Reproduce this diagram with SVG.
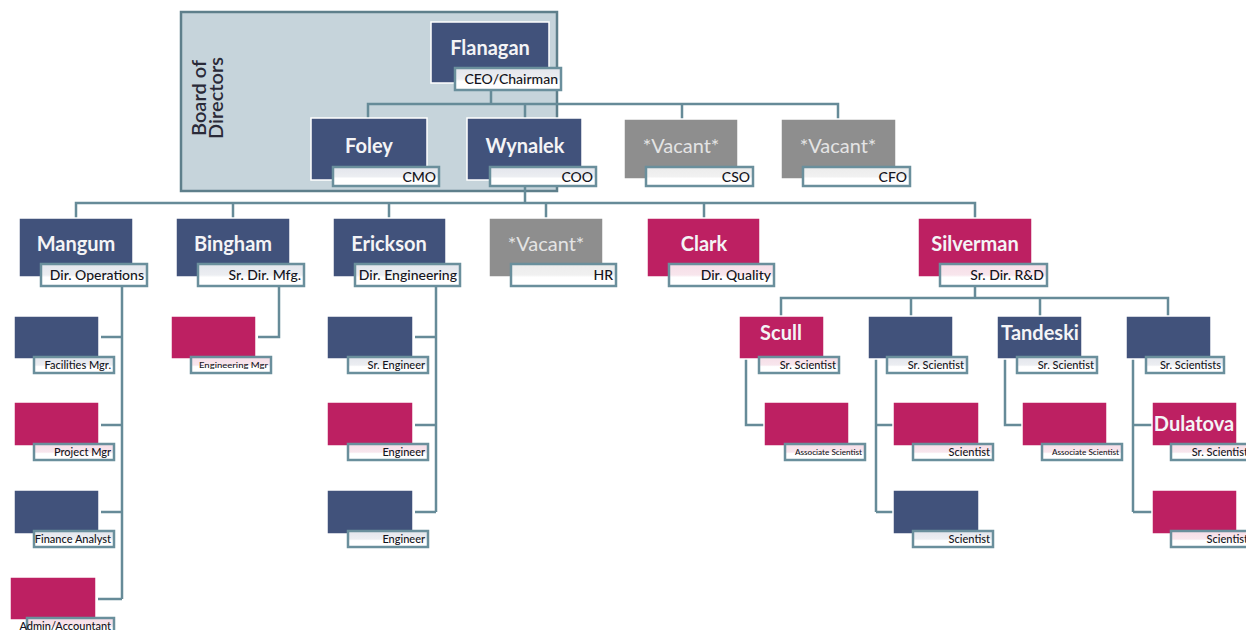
<svg xmlns="http://www.w3.org/2000/svg" width="1246" height="630" viewBox="0 0 1246 630">
<defs>
<linearGradient id="gN" x1="0" y1="0" x2="0" y2="1"><stop offset="0" stop-color="#e3e5ec"/><stop offset="0.5" stop-color="#eceef2"/><stop offset="0.6" stop-color="#fff"/><stop offset="1" stop-color="#fff"/></linearGradient>
<linearGradient id="gP" x1="0" y1="0" x2="0" y2="1"><stop offset="0" stop-color="#f6dde7"/><stop offset="0.5" stop-color="#f8e6ed"/><stop offset="0.6" stop-color="#fff"/><stop offset="1" stop-color="#fff"/></linearGradient>
<linearGradient id="gG" x1="0" y1="0" x2="0" y2="1"><stop offset="0" stop-color="#ececec"/><stop offset="0.5" stop-color="#f1f1f1"/><stop offset="0.6" stop-color="#fff"/><stop offset="1" stop-color="#fff"/></linearGradient>
</defs>
<style>
.navy{fill:#41527b;stroke:#fff;stroke-width:1.5}
.pink{fill:#bd2062;stroke:#fff;stroke-width:1.5}
.grey{fill:#8e8e8e;stroke:#fff;stroke-width:1.5}
.lN{fill:url(#gN);stroke:#6a8f9c;stroke-width:2.5}
.lP{fill:url(#gP);stroke:#6a8f9c;stroke-width:2.5}
.lG{fill:url(#gG);stroke:#6a8f9c;stroke-width:2.5}
.ln{stroke:#668b98;stroke-width:2.5;fill:none}
.nm{font-family:Lato,"Open Sans",sans-serif;font-weight:bold;font-size:20px;fill:#f4f4f6;text-anchor:middle}
.vac{font-family:Lato,"Open Sans",sans-serif;font-size:20px;fill:#e4e4e4;text-anchor:middle}
.tl{font-family:Lato,"Open Sans",sans-serif;font-weight:500;font-size:14px;fill:#141420;text-anchor:end}
.ts{font-family:Lato,"Open Sans",sans-serif;font-weight:500;font-size:11px;fill:#141420;text-anchor:end}
.tx{font-family:Lato,"Open Sans",sans-serif;font-weight:500;font-size:8px;fill:#141420;text-anchor:end}
.bd{font-family:Lato,"Open Sans",sans-serif;font-weight:600;font-size:20px;fill:#2a2a38;text-anchor:middle}
</style>
<g id="board">
<rect x="181" y="12" width="376" height="179" fill="#c6d4db" stroke="#5e7f8b" stroke-width="2.5"/>
<text class="bd" transform="translate(206,98) rotate(-90)">Board of</text>
<text class="bd" transform="translate(223,98) rotate(-90)">Directors</text>
</g>
<g id="connectors">
<path class="ln" d="M491 91V104M368 118V104H838V119M525 104V118M682 104V119"/>
<path class="ln" d="M525 186V203M76 218V203H975V218M233 203V218M389 203V218M546 203V218M704 203V218"/>
<path class="ln" d="M122 286V599M101 337H122M101 425H122M101 512H122M98 599H122"/>
<path class="ln" d="M279 286V337H258"/>
<path class="ln" d="M436 286V512M415 337H436M415 425H436M415 512H436"/>
<path class="ln" d="M975 286V298M781 316V298H1168V316M911 298V316M1040 298V316"/>
<path class="ln" d="M746 359V425H764"/>
<path class="ln" d="M876 359V512M876 425H893M876 512H893"/>
<path class="ln" d="M1005 359V425H1022"/>
<path class="ln" d="M1133 359V512M1133 425H1152M1133 512H1152"/>
</g>
<g id="flanagan"><rect class="navy" x="431" y="22" width="118" height="61"/><text class="nm" x="490" y="55">Flanagan</text><rect class="lN" x="455" y="68" width="106" height="22"/><text class="tl" x="558" y="84">CEO/Chairman</text></g>
<g id="foley"><rect class="navy" x="311" y="118" width="116" height="62"/><text class="nm" x="369" y="153">Foley</text><rect class="lN" x="333" y="167" width="106" height="19"/><text class="tl" x="436" y="182">CMO</text></g>
<g id="wynalek"><rect class="navy" x="467" y="118" width="115" height="62"/><text class="nm" x="525" y="153">Wynalek</text><rect class="lN" x="490" y="167" width="106" height="19"/><text class="tl" x="593" y="182">COO</text></g>
<g id="cso"><rect class="grey" x="624" y="119" width="114" height="60"/><text class="vac" x="681" y="153">*Vacant*</text><rect class="lG" x="646" y="167" width="107" height="19"/><text class="tl" x="750" y="182">CSO</text></g>
<g id="cfo"><rect class="grey" x="781" y="119" width="115" height="60"/><text class="vac" x="838" y="153">*Vacant*</text><rect class="lG" x="803" y="167" width="107" height="19"/><text class="tl" x="907" y="182">CFO</text></g>
<g id="mangum"><rect class="navy" x="19" y="218" width="114" height="59"/><text class="nm" x="76" y="251">Mangum</text><rect class="lN" x="41" y="264" width="106" height="22"/><text class="tl" x="144" y="280">Dir. Operations</text></g>
<g id="bingham"><rect class="navy" x="176" y="218" width="114" height="59"/><text class="nm" x="233" y="251">Bingham</text><rect class="lN" x="198" y="264" width="106" height="22"/><text class="tl" x="301" y="280">Sr. Dir. Mfg.</text></g>
<g id="erickson"><rect class="navy" x="333" y="218" width="113" height="59"/><text class="nm" x="389" y="251">Erickson</text><rect class="lN" x="355" y="264" width="105" height="22"/><text class="tl" x="457" y="280">Dir. Engineering</text></g>
<g id="hr"><rect class="grey" x="489" y="218" width="114" height="59"/><text class="vac" x="546" y="251">*Vacant*</text><rect class="lG" x="511" y="264" width="105" height="22"/><text class="tl" x="613" y="280">HR</text></g>
<g id="clark"><rect class="pink" x="647" y="218" width="113" height="59"/><text class="nm" x="704" y="251">Clark</text><rect class="lP" x="669" y="264" width="105" height="22"/><text class="tl" x="771" y="280">Dir. Quality</text></g>
<g id="silverman"><rect class="pink" x="918" y="218" width="114" height="59"/><text class="nm" x="975" y="251">Silverman</text><rect class="lP" x="940" y="264" width="107" height="22"/><text class="tl" x="1044" y="280">Sr. Dir. R&amp;D</text></g>
<g id="facilities"><rect class="navy" x="14" y="316" width="85" height="43"/><rect class="lN" x="34" y="357" width="80" height="16"/><text class="ts" x="111" y="369">Facilities Mgr.</text></g>
<g id="project"><rect class="pink" x="14" y="402" width="85" height="44"/><rect class="lP" x="34" y="444" width="80" height="16"/><text class="ts" x="111" y="456">Project Mgr</text></g>
<g id="finance"><rect class="navy" x="14" y="490" width="85" height="44"/><rect class="lN" x="34" y="531" width="80" height="16"/><text class="ts" x="111" y="543">Finance Analyst</text></g>
<g id="admin"><rect class="pink" x="10" y="577" width="86" height="43"/><rect class="lP" x="27" y="618" width="87" height="16"/><text class="ts" x="111" y="630">Admin/Accountant</text></g>
<g id="engmgr"><rect class="pink" x="171" y="316" width="85" height="43"/><rect class="lP" x="191" y="357" width="80" height="16"/><text class="tx" x="268" y="368" textLength="69" lengthAdjust="spacingAndGlyphs">Engineering Mgr</text></g>
<g id="sreng"><rect class="navy" x="327" y="316" width="86" height="43"/><rect class="lN" x="348" y="357" width="80" height="16"/><text class="ts" x="425" y="369">Sr. Engineer</text></g>
<g id="eng1"><rect class="pink" x="327" y="402" width="86" height="44"/><rect class="lP" x="348" y="444" width="80" height="16"/><text class="ts" x="425" y="456">Engineer</text></g>
<g id="eng2"><rect class="navy" x="327" y="490" width="86" height="44"/><rect class="lN" x="348" y="531" width="80" height="16"/><text class="ts" x="425" y="543">Engineer</text></g>
<g id="scull"><rect class="pink" x="739" y="316" width="85" height="43"/><text class="nm" x="781" y="340">Scull</text><rect class="lP" x="759" y="357" width="80" height="16"/><text class="ts" x="836" y="369">Sr. Scientist</text></g>
<g id="srsci2"><rect class="navy" x="868" y="316" width="85" height="43"/><rect class="lN" x="887" y="357" width="80" height="16"/><text class="ts" x="964" y="369">Sr. Scientist</text></g>
<g id="tandeski"><rect class="navy" x="997" y="316" width="85" height="43"/><text class="nm" x="1040" y="340">Tandeski</text><rect class="lN" x="1017" y="357" width="80" height="16"/><text class="ts" x="1094" y="369">Sr. Scientist</text></g>
<g id="srsci4"><rect class="navy" x="1126" y="316" width="85" height="43"/><rect class="lN" x="1146" y="357" width="78" height="16"/><text class="ts" x="1221" y="369">Sr. Scientists</text></g>
<g id="assoc1"><rect class="pink" x="764" y="402" width="85" height="44"/><rect class="lP" x="785" y="444" width="80" height="16"/><text class="tx" x="862" y="455" textLength="67" lengthAdjust="spacingAndGlyphs">Associate Scientist</text></g>
<g id="sci1"><rect class="pink" x="893" y="402" width="86" height="44"/><rect class="lP" x="913" y="444" width="80" height="16"/><text class="ts" x="990" y="456">Scientist</text></g>
<g id="sci2"><rect class="navy" x="893" y="490" width="86" height="44"/><rect class="lN" x="913" y="531" width="80" height="16"/><text class="ts" x="990" y="543">Scientist</text></g>
<g id="assoc2"><rect class="pink" x="1022" y="402" width="85" height="44"/><rect class="lP" x="1042" y="444" width="80" height="16"/><text class="tx" x="1119" y="455" textLength="67" lengthAdjust="spacingAndGlyphs">Associate Scientist</text></g>
<g id="dulatova"><rect class="pink" x="1152" y="402" width="85" height="44"/><text class="nm" x="1194" y="431">Dulatova</text><rect class="lP" x="1171" y="444" width="80" height="16"/><text class="ts" x="1248" y="456">Sr. Scientist</text></g>
<g id="sci3"><rect class="pink" x="1152" y="490" width="85" height="44"/><rect class="lP" x="1171" y="531" width="80" height="16"/><text class="ts" x="1248" y="543">Scientist</text></g>
</svg>
